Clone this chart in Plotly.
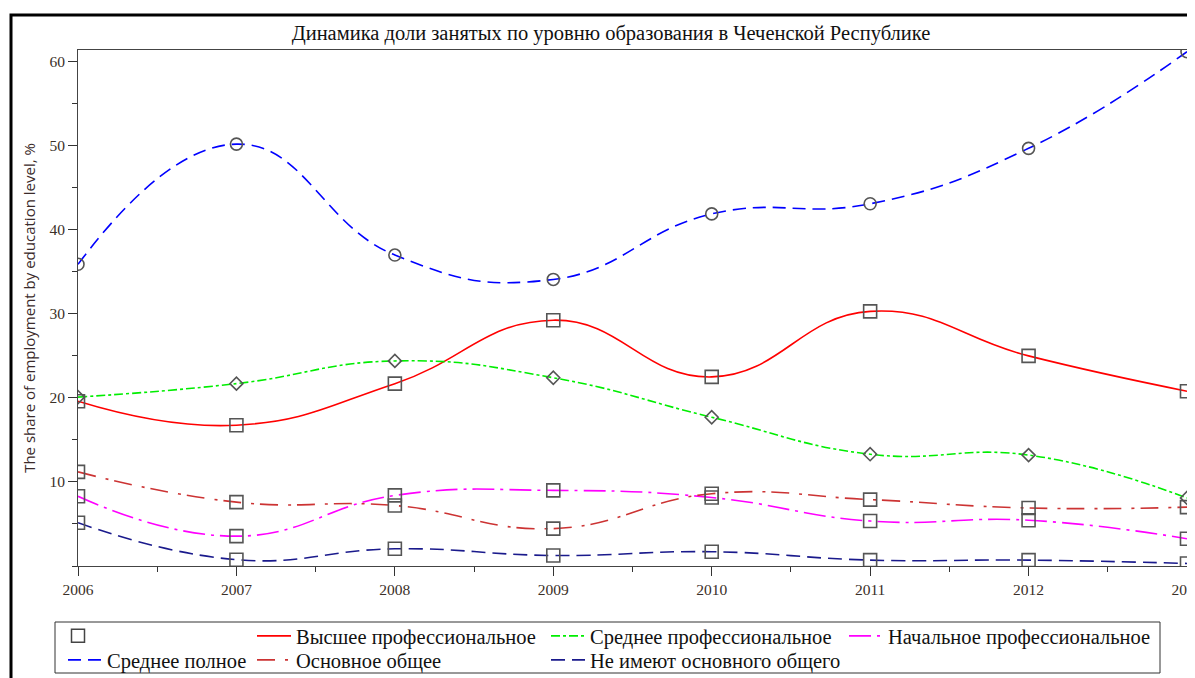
import plotly.graph_objects as go

years = [2006, 2007, 2008, 2009, 2010, 2011, 2012, 2013]

vysshee = [19.6, 16.75, 21.7, 29.25, 22.5, 30.3, 25.0, 20.8]
sred_prof = [20.1, 21.7, 24.4, 22.4, 17.7, 13.3, 13.2, 8.1]
nach_prof = [8.3, 3.55, 8.4, 9.0, 8.15, 5.35, 5.45, 3.25]
sred_poln = [35.9, 50.2, 37.0, 34.1, 41.9, 43.1, 49.7, 61.2]
osn_obsh = [11.2, 7.6, 7.2, 4.45, 8.6, 7.9, 6.9, 7.0]
ne_imeyut = [5.15, 0.75, 2.05, 1.25, 1.7, 0.7, 0.7, 0.3]

names = ["Высшее профессиональное", "Среднее профессиональное", "Начальное профессиональное",
         "Среднее полное", "Основное общее", "Не имеют основного общего"]
title_text = "Динамика доли занятых по уровню образования в Чеченской Республике"
ytitle = "The share of employment by education level, %"

# (name, values, colour, dash, marker symbol, legend id)
series = [
    (names[0], vysshee, "#ff0000", "solid", "square", "legend2"),
    (names[1], sred_prof, "#00ee00", "dashdot", "diamond", "legend3"),
    (names[2], nach_prof, "#ff00ff", "22px,6px,3px,6px", "square", "legend4"),
    (names[3], sred_poln, "#0000ff", "13px,7px", "circle", "legend5"),
    (names[4], osn_obsh, "#cc3333", "18px,10px,3px,6px", "square", "legend6"),
    (names[5], ne_imeyut, "#1a1a8c", "14px,7px", "square", "legend7"),
]

SERIF = "Liberation Serif"
OFF = 8  # page body margin in the browser
W, H = 1195, 678
# target plot box in screenshot pixels
L, R, T, B = 78 - OFF, 1195 - (1187 - OFF), 50 - OFF, 678 - (566 - OFF)
pw, ph = W - L - R, H - T - B


def px(xs):
    return (xs - OFF - L) / pw


def py(ys):
    return (H - B - (ys - OFF)) / ph


fig = go.Figure()

# marker legend entry (empty name, square)
fig.add_trace(go.Scatter(x=[None], y=[None], mode="markers", name=" ",
                         marker=dict(symbol="square-open", size=13, color="#444",
                                     line=dict(width=1.5)),
                         legend="legend", showlegend=True))

for i, (nm, vals, col, dash, sym, lg) in enumerate(series):
    fig.add_trace(go.Scatter(x=years, y=vals, mode="lines", name=nm, legend=lg,
                             line=dict(color=col, width=1.6, dash=dash, shape="spline", smoothing=1.3)))

for i, (nm, vals, col, dash, sym, lg) in enumerate(series):
    size = 13 if sym == "square" else (12 if sym == "circle" else 10)
    fig.add_trace(go.Scatter(x=years, y=vals, mode="markers", showlegend=False,
                             marker=dict(symbol=sym + "-open", size=size, color="#555",
                                         line=dict(width=1.6, color="#555"))))

# outer black frame
fig.add_shape(type="rect", xref="paper", yref="paper",
              x0=px(11), x1=px(1210), y0=py(700), y1=py(15),
              line=dict(color="black", width=3), fillcolor="rgba(0,0,0,0)", layer="above")
# legend box
fig.add_shape(type="rect", xref="paper", yref="paper",
              x0=px(55), x1=px(1160), y0=py(673), y1=py(622),
              line=dict(color="#333", width=1), fillcolor="rgba(0,0,0,0)", layer="above")

leg_font = dict(family=SERIF, size=20.5, color="#111")
legend_common = dict(orientation="v", yanchor="middle", xanchor="left",
                     bgcolor="rgba(0,0,0,0)", borderwidth=0, font=leg_font,
                     tracegroupgap=0, itemwidth=34)
ROW1, ROW2 = 636, 660

fig.update_layout(
    width=W, height=H,
    margin=dict(l=L, r=R, t=T, b=B, autoexpand=False),
    paper_bgcolor="white", plot_bgcolor="white",
    title=dict(text=title_text, x=(611 - OFF) / W, xanchor="center", y=1 - (33 - OFF) / H,
               yanchor="middle", font=dict(family=SERIF, size=20.5, color="#111")),
    showlegend=True,
    legend=dict(legend_common, x=px(56), y=py(ROW1)),
    legend2=dict(legend_common, x=px(252), y=py(ROW1)),
    legend3=dict(legend_common, x=px(546), y=py(ROW1)),
    legend4=dict(legend_common, x=px(844), y=py(ROW1)),
    legend5=dict(legend_common, x=px(63), y=py(ROW2)),
    legend6=dict(legend_common, x=px(252), y=py(ROW2)),
    legend7=dict(legend_common, x=px(546), y=py(ROW2)),
    xaxis=dict(range=[2006, 2013], tickvals=years, ticktext=[str(y) for y in years],
               ticks="outside", ticklen=9, tickcolor="#333", tickwidth=1,
               minor=dict(dtick=0.5, tick0=2006, ticks="outside", ticklen=5, tickcolor="#333"),
               showline=True, linecolor="#444", linewidth=1, mirror=True,
               showgrid=False, zeroline=False,
               tickfont=dict(family=SERIF, size=15.5, color="#3a3028")),
    yaxis=dict(range=[0, 61.4], tickvals=[10, 20, 30, 40, 50, 60],
               ticks="outside", ticklen=9, tickcolor="#333", tickwidth=1,
               minor=dict(dtick=5, tick0=0, ticks="outside", ticklen=5, tickcolor="#333"),
               showline=True, linecolor="#444", linewidth=1, mirror=True,
               showgrid=False, zeroline=False,
               tickfont=dict(family=SERIF, size=15.5, color="#3a3028"),
               title=dict(text=ytitle, standoff=10,
                          font=dict(family="Open Sans", size=15, color="#3a2a2a"))),
)

fig.write_html("out.html")
